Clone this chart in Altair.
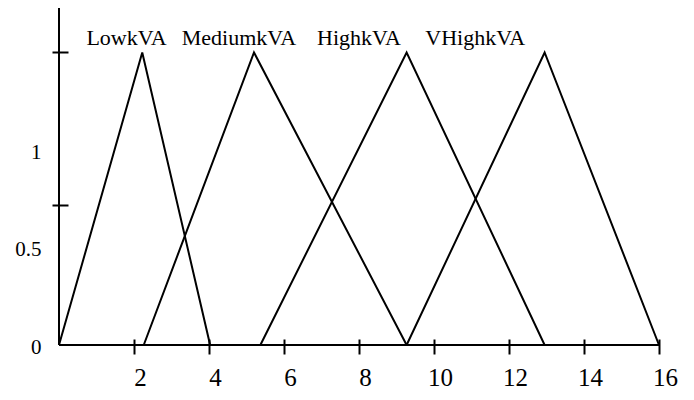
import altair as alt
import pandas as pd

# ---- data ----
series = ["LowkVA", "MediumkVA", "HighkVA", "VHighkVA"]
x_start = [0.0, 2.26, 5.37, 9.27]
x_peak = [2.22, 5.2, 9.27, 12.95]
x_end = [4.03, 9.27, 12.95, 16.0]
peak_value = 1.5

label_x = [1.8, 4.8, 8.0, 11.1]
label_y = [1.54, 1.54, 1.54, 1.54]

x_ticks = [2, 4, 6, 8, 10, 12, 14, 16]
y_tick_marks = [0.72, 1.5]
y_tick_labels = [0, 0.5, 1]

# ---- tables ----
rows = []
for s, a, b, c in zip(series, x_start, x_peak, x_end):
    rows.append({"series": s, "x": a, "y": 0.0, "o": 0})
    rows.append({"series": s, "x": b, "y": peak_value, "o": 1})
    rows.append({"series": s, "x": c, "y": 0.0, "o": 2})
lines_df = pd.DataFrame(rows)
labels_df = pd.DataFrame({"name": series, "lx": label_x, "ly": label_y})

FONT = "Liberation Serif"
xscale = alt.Scale(domain=[0, 16], nice=False, zero=False)
yscale = alt.Scale(domain=[0, 1.728], nice=False, zero=False)

mark_test = " || ".join(f"datum.value == {v}" for v in y_tick_marks)

xaxis = alt.Axis(
    values=x_ticks, domain=False, grid=False, title=None,
    offset=-6, tickSize=15, tickWidth=2, tickColor="black",
    labelFont=FONT, labelFontSize=25, labelColor="black",
    labelPadding=11, labelOffset=6, labelFlush=False, labelOverlap=False,
)
yaxis = alt.Axis(
    values=y_tick_marks + y_tick_labels, domain=False, grid=False, title=None,
    offset=-9, tickSize=16, tickWidth=2, tickColor="black",
    tickOpacity={"condition": {"test": mark_test, "value": 1}, "value": 0},
    labelExpr=f"({mark_test}) ? '' : format(datum.value, '~g')",
    labelFont=FONT, labelFontSize=21, labelColor="black",
    labelPadding=11, labelOffset=2.5, labelFlush=False, labelOverlap=False,
)

lines = alt.Chart(lines_df).mark_line(color="black", strokeWidth=2).encode(
    x=alt.X("x:Q", scale=xscale, axis=xaxis),
    y=alt.Y("y:Q", scale=yscale, axis=yaxis),
    detail="series:N",
    order="o:Q",
)

baseline = alt.Chart(lines_df).mark_rule(color="black", strokeWidth=2).encode(
    y=alt.datum(0)
)
yline = alt.Chart(lines_df).mark_rule(color="black", strokeWidth=2).encode(
    x=alt.datum(0)
)

labels = alt.Chart(labels_df).mark_text(
    font=FONT, fontSize=22, color="black", align="center", baseline="alphabetic"
).encode(
    x="lx:Q",
    y="ly:Q",
    text="name:N",
)

chart = alt.layer(lines, baseline, yline, labels).properties(
    width=600,
    height=337,
    autosize=alt.AutoSizeParams(type="none"),
    padding={"left": 51, "top": 0, "right": 25, "bottom": 46},
    background="white",
).configure_view(stroke=None)

chart.save("out.html", embed_options={"renderer": "svg", "actions": False})
